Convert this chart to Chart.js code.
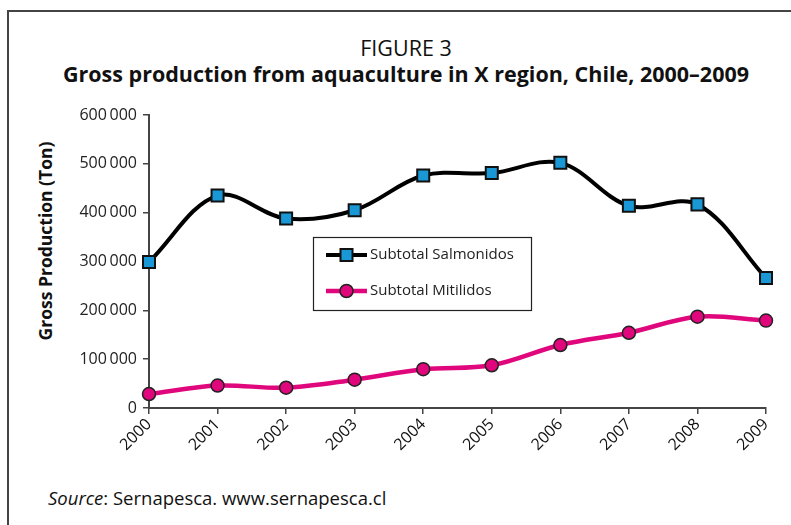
<!DOCTYPE html>
<html>
<head>
<meta charset="utf-8">
<script src="https://cdn.jsdelivr.net/npm/chart.js@4/dist/chart.umd.min.js"></script>
<style>
  html,body{margin:0;padding:0;background:#fff;width:791px;height:525px;overflow:hidden;}
  #frame{position:absolute;left:7px;top:10px;width:900px;height:700px;border-left:2px solid #444;border-top:2px solid #444;box-sizing:border-box;}
  .t{position:absolute;font-family:"Open Sans","Noto Sans",sans-serif;color:#111;white-space:nowrap;}
  #fig{left:0;width:812px;text-align:center;top:33px;font-size:21.5px;}
  #sub{left:0;width:812px;text-align:center;top:59px;font-size:21.5px;font-weight:bold;}
  #ytitle{left:45px;top:241px;font-size:17.5px;font-weight:bold;transform:translate(-50%,-50%) rotate(-90deg);}
  #src{left:48px;top:485px;font-size:18.5px;}
  #wrap{position:absolute;left:0;top:0;width:791px;height:460px;}
</style>
</head>
<body>
<div id="frame"></div>
<div class="t" id="fig">FIGURE 3</div>
<div class="t" id="sub">Gross production from aquaculture in X region, Chile, 2000–2009</div>
<div class="t" id="ytitle">Gross Production (Ton)</div>
<div class="t" id="src"><i>Source</i>: Sernapesca. www.sernapesca.cl</div>
<div id="wrap"><canvas id="c" width="791" height="460"></canvas></div>
<script>
const years = ["2000","2001","2002","2003","2004","2005","2006","2007","2008","2009"];
const salmonidos = [299000, 435000, 388000, 405000, 476000, 481000, 502000, 414000, 417000, 266000];
const mitilidos = [28600, 46000, 41500, 58000, 79500, 87500, 129000, 154000, 187000, 179000];
const seriesNames = ["Subtotal Salmonidos", "Subtotal Mitilidos"];
const yTicks = [0, 100000, 200000, 300000, 400000, 500000, 600000];

const FONT = '"Open Sans","Noto Sans",sans-serif';

const legendPlugin = {
  id: 'boxLegend',
  afterDraw(chart) {
    const ctx = chart.ctx;
    const bx = 313, by = 237, bw = 218, bh = 73;
    ctx.save();
    ctx.fillStyle = '#fff';
    ctx.fillRect(bx, by, bw, bh);
    ctx.strokeStyle = '#222';
    ctx.lineWidth = 1.2;
    ctx.strokeRect(bx + 0.5, by + 0.5, bw, bh);
    chart.data.datasets.forEach((ds, i) => {
      const y = by + 18 + i * 36;
      const cx = bx + 33.5;
      ctx.strokeStyle = ds.borderColor;
      ctx.lineWidth = ds.borderWidth;
      ctx.beginPath();
      ctx.moveTo(bx + 13, y);
      ctx.lineTo(bx + 54, y);
      ctx.stroke();
      ctx.fillStyle = ds.pointBackgroundColor;
      ctx.strokeStyle = ds.pointBorderColor;
      ctx.lineWidth = ds.pointBorderWidth;
      ctx.beginPath();
      if (ds.pointStyle === 'rect') {
        const h = ds.pointRadius * Math.SQRT1_2;
        ctx.rect(cx - h, y - h, 2 * h, 2 * h);
      } else {
        ctx.arc(cx, y, ds.pointRadius, 0, Math.PI * 2);
      }
      ctx.fill();
      ctx.stroke();
      ctx.fillStyle = '#222';
      ctx.font = '15px ' + FONT;
      ctx.textBaseline = 'middle';
      ctx.fillText(ds.label, bx + 57, y);
    });
    ctx.restore();
  }
};

new Chart(document.getElementById('c'), {
  type: 'line',
  data: {
    labels: years,
    datasets: [
      {
        label: seriesNames[0], data: salmonidos,
        borderColor: '#000', borderWidth: 4, tension: 0.35,
        pointStyle: 'rect', pointRadius: 8.5, pointBorderWidth: 2,
        pointBackgroundColor: '#1a98d5', pointBorderColor: '#111'
      },
      {
        label: seriesNames[1], data: mitilidos,
        borderColor: '#e0077d', borderWidth: 4.5, tension: 0.35,
        pointStyle: 'circle', pointRadius: 6.5, pointBorderWidth: 1.5,
        pointBackgroundColor: '#e0077d', pointBorderColor: '#222'
      }
    ]
  },
  options: {
    responsive: false,
    animation: false,
    layout: { padding: { left: 0, right: 25, top: 115, bottom: 0 } },
    plugins: { legend: { display: false }, tooltip: { enabled: false }, title: { display: false } },
    scales: {
      x: {
        type: 'category', offset: false,
        afterFit(s) { s.height = 52; },
        grid: { drawOnChartArea: false, drawTicks: true, tickLength: 6, color: '#444', lineWidth: 1.5 },
        border: { display: true, color: '#444', width: 2 },
        ticks: { maxRotation: 45, minRotation: 45, padding: 1, color: '#111', font: { family: FONT, size: 16 } }
      },
      y: {
        min: 0, max: 600000,
        afterFit(s) { s.width = 149; },
        afterBuildTicks(s) { s.ticks = yTicks.map(v => ({ value: v })); },
        grid: { drawOnChartArea: false, drawTicks: true, tickLength: 6, color: '#444', lineWidth: 1.5 },
        border: { display: true, color: '#444', width: 2 },
        ticks: {
          padding: 6, color: '#222', font: { family: FONT, size: 16 },
          callback: v => v === 0 ? '0' : String(v).replace(/\B(?=(\d{3})+(?!\d))/g, '\u2009')
        }
      }
    }
  },
  plugins: [legendPlugin]
});
</script>
</body>
</html>
